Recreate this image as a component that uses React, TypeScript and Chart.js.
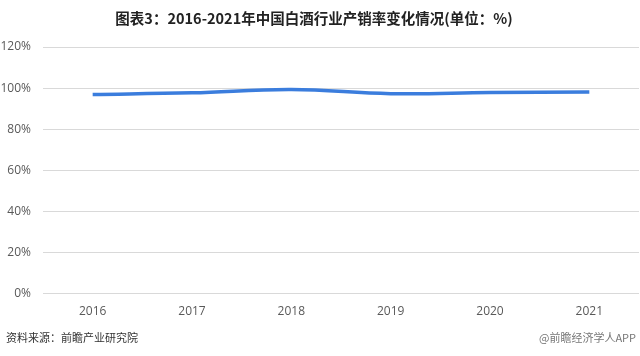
import React, { useEffect, useRef } from "react";
import { Chart, registerables } from "chart.js";

Chart.register(...registerables);

const years = ["2016", "2017", "2018", "2019", "2020", "2021"];
const ratio = [96.9, 97.7, 99.3, 97.3, 97.8, 98.1];
const yTicks = [0, 20, 40, 60, 80, 100, 120];
const titleText = "图表3：2016-2021年中国白酒行业产销率变化情况(单位：%)";
const sourceText = "资料来源：前瞻产业研究院";
const creditText = "@前瞻经济学人APP";

const textPlugin = {
  id: "texts",
  afterDraw(chart: any) {
    const ctx = chart.ctx;
    ctx.save();
    ctx.fillStyle = "#222";
    ctx.font = "bold 14.5px 'Noto Sans CJK SC', sans-serif";
    ctx.textAlign = "center";
    ctx.textBaseline = "middle";
    ctx.fillText(titleText, 314, 18);
    ctx.font = "11px 'Noto Sans CJK SC', sans-serif";
    ctx.textAlign = "left";
    ctx.fillStyle = "#333";
    ctx.fillText(sourceText, 6, 338);
    ctx.textAlign = "right";
    ctx.fillStyle = "#777";
    ctx.fillText(creditText, 636, 338);
    ctx.restore();
  },
};

export default function App() {
  const ref = useRef<HTMLCanvasElement>(null);
  useEffect(() => {
    document.body.style.margin = "0";
    const chart = new Chart(ref.current!, {
      type: "line",
      data: {
        labels: years,
        datasets: [
          {
            data: ratio,
            borderColor: "#3b7ddd",
            borderWidth: 3.5,
            pointRadius: 0,
            tension: 0.4,
            fill: false,
          },
        ],
      },
      options: {
        animation: false,
        responsive: false,
        layout: { padding: { top: 47, bottom: 26, left: 0, right: 1 } },
        plugins: { legend: { display: false }, tooltip: { enabled: false } },
        scales: {
          x: {
            offset: true,
            grid: { display: false, drawTicks: false },
            border: { display: false },
            ticks: {
              color: "#595959",
              font: { size: 12, family: "'Open Sans', sans-serif" },
              padding: 11,
              maxRotation: 0,
            },
          },
          y: {
            min: 0,
            max: 120,
            afterBuildTicks(axis: any) {
              axis.ticks = yTicks.map((v) => ({ value: v }));
            },
            afterFit(axis: any) {
              axis.width = 43;
            },
            grid: { color: "#d9d9d9", drawTicks: false, lineWidth: 1 },
            border: { display: false },
            ticks: {
              color: "#595959",
              font: { size: 12, family: "'Open Sans', sans-serif" },
              padding: 12,
              callback: (v: any) => v + "%",
            },
          },
        },
      },
      plugins: [textPlugin],
    });
    return () => chart.destroy();
  }, []);
  return (
    <div style={{ position: "absolute", left: 0, top: 0, width: 640, height: 356, background: "#fff" }}>
      <canvas ref={ref} width={640} height={356} />
    </div>
  );
}
